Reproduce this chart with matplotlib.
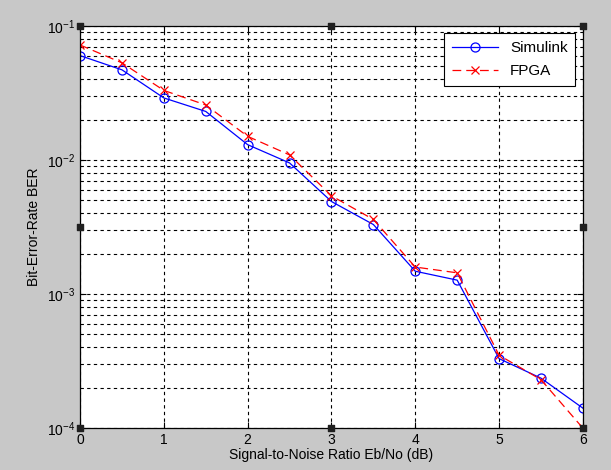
import numpy as np
import matplotlib.pyplot as plt
from matplotlib.ticker import LogLocator, FixedLocator, NullFormatter

plt.rcParams['font.family'] = ['Liberation Sans', 'DejaVu Sans']

# Eb/No values (dB)
ebno = [0, 0.5, 1, 1.5, 2, 2.5, 3, 3.5, 4, 4.5, 5, 5.5, 6]
# BER
ber_simulink = [0.060, 0.047, 0.029, 0.023, 0.013, 0.0095, 0.0049, 0.0033,
                0.00148, 0.00127, 0.00033, 0.000236, 0.000141]
ber_fpga = [0.072, 0.053, 0.033, 0.0257, 0.015, 0.0109, 0.0054, 0.0036,
            0.00159, 0.00144, 0.00035, 0.00023, 0.0001]

fig = plt.figure(figsize=(6.11, 4.70), dpi=100)
fig.patch.set_facecolor('#c8c8c8')
ax = fig.add_axes([0.131, 0.089, 0.823, 0.856])

ax.semilogy(ebno, ber_simulink, color='blue', lw=0.9, marker='o', ms=6.5,
            mfc='none', mec='blue', mew=0.9, label='Simulink')
ax.semilogy(ebno, ber_fpga, color='red', lw=0.9, ls=(0, (7, 4)), marker='x',
            ms=5.5, mec='red', mew=0.9, label='FPGA')

ax.set_xlim(0, 6)
ax.set_ylim(1e-4, 1e-1)
ax.xaxis.set_major_locator(FixedLocator(range(7)))
ax.yaxis.set_major_locator(LogLocator(base=10, numticks=10))
ax.yaxis.set_minor_locator(LogLocator(base=10, subs=np.arange(2, 10), numticks=10))
ax.yaxis.set_minor_formatter(NullFormatter())

ax.grid(True, which='major', color='black', ls=(0, (3, 3)), lw=0.8)
ax.grid(True, which='minor', axis='y', color='black', ls=(0, (3, 3)), lw=0.8)
ax.tick_params(which='both', direction='in', top=True, right=True, labelsize=10)
ax.tick_params(which='major', length=4)
ax.tick_params(which='minor', length=2)
for s in ax.spines.values():
    s.set_linewidth(0.9)

ax.set_xlabel('Signal-to-Noise Ratio Eb/No (dB)', fontsize=10, labelpad=1)
ax.set_ylabel('Bit-Error-Rate BER', fontsize=10, labelpad=4)

leg = ax.legend(loc='upper right', fontsize=11, fancybox=False, framealpha=1,
                edgecolor='black', borderaxespad=0.5, handlelength=3,
                labelspacing=0.6, borderpad=0.5)
leg.get_frame().set_linewidth(0.8)

# selection handles (edit mode squares)
hx = [0, 0.5, 1, 0, 1, 0, 0.5, 1]
hy = [1, 1, 1, 0.5, 0.5, 0, 0, 0]
ax.scatter(hx, hy, marker='s', s=22, color='#202020', transform=ax.transAxes,
           clip_on=False, zorder=5)

fig.savefig('out.png', dpi=100, facecolor=fig.get_facecolor())
